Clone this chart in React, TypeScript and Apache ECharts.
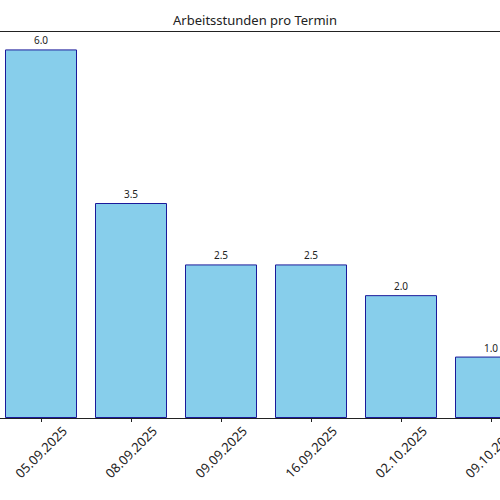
import React, { useEffect, useRef } from "react";
import * as echarts from "echarts";

const categories = ["05.09.2025", "08.09.2025", "09.09.2025", "16.09.2025", "02.10.2025", "09.10.2025"];
const hours = [6.0, 3.5, 2.5, 2.5, 2.0, 1.0];
const titleText = "Arbeitsstunden pro Termin";

export default function App() {
  const ref = useRef<HTMLDivElement>(null);
  useEffect(() => {
    if (!ref.current) return;
    const chart = echarts.init(ref.current, null, { renderer: "svg" });
    chart.setOption({
      animation: false,
      backgroundColor: "#ffffff",
      textStyle: { fontFamily: "Noto Sans" },
      title: {
        text: titleText,
        left: 254,
        textAlign: "center",
        top: 8,
        textStyle: { fontSize: 13, fontWeight: "normal", color: "#222", fontFamily: "Noto Sans" },
      },
      grid: { left: 0, right: 0, top: 31, bottom: 82, containLabel: false },
      xAxis: [
        {
          type: "category",
          data: categories,
          position: "bottom",
          axisLine: { show: true, lineStyle: { color: "#222", width: 1 } },
          axisTick: { show: true, alignWithLabel: true, length: 4, lineStyle: { color: "#222" } },
          axisLabel: {
            rotate: 45,
            align: "center",
            verticalAlign: "middle",
            margin: 34,
            fontSize: 13,
            color: "#222",
            fontFamily: "Noto Sans",
            interval: 0,
          },
        },
        {
          type: "category",
          data: categories,
          position: "top",
          axisLine: { show: true, lineStyle: { color: "#222", width: 1 } },
          axisTick: { show: false },
          axisLabel: { show: false },
        },
      ],
      yAxis: {
        type: "value",
        min: 0,
        max: 6.3,
        show: false,
        splitLine: { show: false },
      },
      series: [
        {
          type: "bar",
          data: hours,
          barCategoryGap: "20%",
          itemStyle: { color: "#87CEEB", borderColor: "#1a1a9a", borderWidth: 1 },
          label: {
            show: true,
            position: "top",
            distance: 4,
            fontSize: 10,
            color: "#222",
            fontFamily: "Noto Sans",
            formatter: (p: any) => Number(p.value).toFixed(1),
          },
        },
      ],
    });
    return () => chart.dispose();
  }, []);
  return (
    <div style={{ position: "absolute", left: 0, top: 0, width: 500, height: 500, overflow: "hidden" }}>
      <div
        ref={ref}
        style={{ position: "absolute", left: -4, top: 0, width: 540, height: 500 }}
      />
    </div>
  );
}
